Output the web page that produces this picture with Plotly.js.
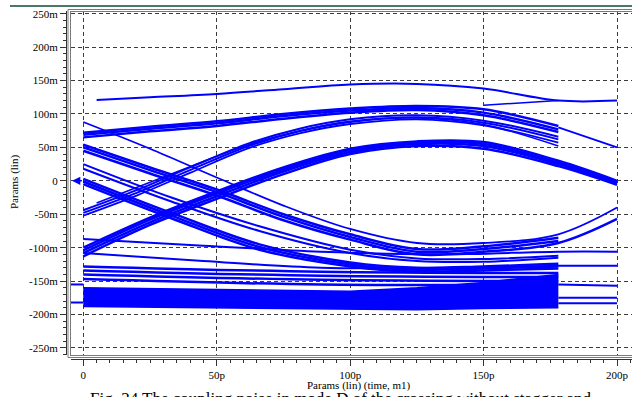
<!DOCTYPE html>
<html><head><meta charset="utf-8">
<script src="https://cdn.plot.ly/plotly-3.0.1.min.js"></script>
<style>html,body{margin:0;padding:0;background:#fff;overflow:hidden}#chart{width:632px;height:397px}</style>
</head><body><div id="chart"></div>
<script>
// ---- tick labels ----
const xTickVals = [0, 50, 100, 150, 200];
const xTickText = ['0', '50p', '100p', '150p', '200p'];
const yTickVals = [-250, -200, -150, -100, -50, 0, 50, 100, 150, 200, 250];
const yTickText = ['-250m', '-200m', '-150m', '-100m', '-50m', '0', '50m', '100m', '150m', '200m', '250m'];

// ---- time samples (ps) ----
const tTop = [5, 25, 50, 75, 100, 125, 150, 178, 200];
const tArc = [0, 25, 50, 75, 100, 125, 150, 178];
const tFull = [0, 25, 50, 75, 100, 125, 150, 178, 200];
const tUp = [0, 20, 40, 62, 81, 100, 125, 150, 178];
const tUp5 = [5, 20, 40, 62, 81, 100, 125, 150, 178];
const tFall = [0, 33, 66, 100, 125, 150, 178];
const tFlat = [0, 45, 89, 133, 178, 200];
const tFlat3 = [0, 89, 178];
const tBlock = [0, 50, 100, 125, 150, 178];
const tTail = [178, 200];
const tLink = [150, 178];
const tPre = [-4.6, 0];

// ---- values (mV) ----
const yTop = [121, 125, 130, 137, 144, 145, 138, 120, 120];
const bundle2a = [65, 74, 82, 93, 102, 106, 98, 73];
const bundle2b = [69, 78, 86, 97, 105, 109, 102, 77];
const bundle2c = [72, 81, 89, 100, 108, 112, 107, 82];
const bundle2Tail = [80, 50];
const bundle2Link = [113, 120];
const upper1 = [-48, -18, 16, 52, 74, 88, 95, 87, 62];
const upper2 = [-44, -14, 20, 56, 78, 92, 98, 90, 66];
const upper3 = [-33, -10, 21, 54, 75, 89, 94, 84, 52];
const upper4 = [-52, -22, 12, 49, 71, 85, 92, 83, 57];
const lower1 = [-100, -55, -16, 20, 48, 59, 58, 30, 0];
const lower2 = [-104, -58, -19, 17, 46, 57, 55, 27, -2];
const lower3 = [-108, -62, -23, 14, 43, 55, 52, 25, -4];
const lower4 = [-113, -66, -27, 10, 40, 52, 48, 22, -6];
const fallA = [88, 48, 5, -37, -72, -93, -93, -80, -40];
const fallB1 = [54, 20, -13, -50, -80, -102, -98, -85];
const fallB2 = [50, 16, -17, -54, -84, -106, -102, -90];
const fallB3 = [45, 11, -22, -59, -88, -110, -106, -93, -57];
const fallC1 = [25, -25, -68, -103, -116, -117, -112];
const fallC2 = [18, -31, -75, -108, -120, -121, -115];
const fallD1 = [3, -48, -95, -122, -130, -128, -124];
const fallD2 = [-1, -52, -99, -125, -133, -131, -128];
const fallD3 = [-5, -56, -103, -128, -136, -134, -131];
const flat1 = [-87, -97, -106, -110, -106, -106];
const flat2 = [-108, -120, -130, -130, -127, -127];
const flat3a = [-128, -136, -138];
const flat3b = [-134, -142, -144];
const flat3c = [-140, -148, -150];
const flat3d = [-147, -155, -155];
const blockTop = [-160, -163, -165, -160, -152, -140];
const blockBot = [-188, -190, -193, -193, -191, -190];
const tail157 = [-155, -157];
const tail175 = [-175, -175];
const tail183 = [-183, -183];
const pre155 = [-155, -155];
const pre182 = [-182, -182];

const BLUE = 'rgb(0,0,255)';
function ln(t, y, w) {
  return {x: t, y: y, type: 'scatter', mode: 'lines', hoverinfo: 'skip', showlegend: false,
          line: {color: BLUE, width: w || 2, shape: 'spline', smoothing: 1}};
}
const traces = [
  ln(tTop, yTop, 2),
  ln(tArc, bundle2a, 2.5), ln(tArc, bundle2b, 2.5), ln(tArc, bundle2c, 2.5),
  ln(tTail, bundle2Tail, 1.8), ln(tLink, bundle2Link, 1.5),
  ln(tUp, upper1, 2), ln(tUp, upper2, 2), ln(tUp5, upper3, 1.6), ln(tUp, upper4, 1.8),
  ln(tFull, lower1, 2.5), ln(tFull, lower2, 2.5), ln(tFull, lower3, 2.5), ln(tFull, lower4, 2.5),
  ln(tFull, fallA, 1.8),
  ln(tArc, fallB1, 2.5), ln(tArc, fallB2, 2.5), ln(tFull, fallB3, 2.5),
  ln(tFall, fallC1, 2), ln(tFall, fallC2, 2),
  ln(tFall, fallD1, 2.5), ln(tFall, fallD2, 2.5), ln(tFall, fallD3, 2.5),
  ln(tFlat, flat1, 2), ln(tFlat, flat2, 2),
  ln(tFlat3, flat3a, 2.5), ln(tFlat3, flat3b, 2.5), ln(tFlat3, flat3c, 2.5), ln(tFlat3, flat3d, 2.5),
  {x: tBlock, y: blockBot, type: 'scatter', mode: 'lines', hoverinfo: 'skip', showlegend: false,
   line: {color: BLUE, width: 1.5}},
  {x: tBlock, y: blockTop, type: 'scatter', mode: 'lines', hoverinfo: 'skip', showlegend: false,
   fill: 'tonexty', fillcolor: BLUE, line: {color: BLUE, width: 1.5}},
  ln(tTail, tail157, 2), ln(tTail, tail175, 2), ln(tTail, tail183, 2),
  ln(tPre, pre155, 2), ln(tPre, pre182, 2),
  {x: [null], y: [null], xaxis: 'x2', yaxis: 'y2', type: 'scatter', mode: 'lines', showlegend: false, hoverinfo: 'skip'}
];

// ---- pixel helpers for paper coords ----
const L = 66, R = 632, T = 11, B = 359;
const px = v => (v - L) / (R - L);
const py = v => (B - v) / (B - T);
const serif = 'Liberation Serif, Times New Roman, serif';
const FRAME = '#7a7a7a';
const GRID = '#3c3c3c';

const layout = {
  width: 632, height: 397,
  margin: {l: L, r: 0, t: T, b: 397 - B, pad: 0},
  paper_bgcolor: '#fff', plot_bgcolor: '#fff',
  showlegend: false,
  xaxis: {domain: [px(71), 1], range: [-4.6, 205.6], tickvals: xTickVals, showticklabels: false, ticks: '',
          showgrid: true, gridcolor: GRID, gridwidth: 1, griddash: '4px,3px', zeroline: false,
          showline: true, linecolor: FRAME, linewidth: 1, fixedrange: true},
  yaxis: {domain: [py(355), 1], range: [-260.5, 254], tickvals: yTickVals, showticklabels: false, ticks: '',
          showgrid: true, gridcolor: GRID, gridwidth: 1, griddash: '4px,3px', zeroline: false,
          showline: true, linecolor: FRAME, linewidth: 1, fixedrange: true},
  xaxis2: {overlaying: 'x', anchor: 'free', position: 0, range: [-4.6, 205.6],
           tickmode: 'array', tickvals: xTickVals, ticktext: xTickText, ticks: 'outside', ticklen: 6,
           tickcolor: '#333', tickwidth: 1, showline: true, linecolor: '#333', linewidth: 1,
           showgrid: false, zeroline: false, tickfont: {family: serif, size: 11, color: '#000'},
           minor: {tickmode: 'linear', tick0: 0, dtick: 5, ticks: 'outside', ticklen: 3, tickcolor: '#333', showgrid: false},
           fixedrange: true},
  yaxis2: {overlaying: 'y', anchor: 'free', position: 0, side: 'left', range: [-260.5, 254],
           tickmode: 'array', tickvals: yTickVals, ticktext: yTickText, ticks: 'outside', ticklen: 6,
           tickcolor: '#333', tickwidth: 1, showline: true, linecolor: '#333', linewidth: 1,
           showgrid: false, zeroline: false, tickfont: {family: serif, size: 11, color: '#000'},
           minor: {tickmode: 'linear', tick0: 0, dtick: 10, ticks: 'outside', ticklen: 3, tickcolor: '#333', showgrid: false},
           fixedrange: true},
  shapes: [
    {type: 'line', xref: 'paper', yref: 'paper', x0: px(10), x1: 1, y0: py(6), y1: py(6),
     line: {color: '#0d4a3a', width: 1.5}},
    {type: 'line', xref: 'paper', yref: 'paper', x0: px(68), x1: px(68), y0: py(9.5), y1: py(357.5),
     line: {color: FRAME, width: 1}},
    {type: 'line', xref: 'paper', yref: 'paper', x0: px(68), x1: 1, y0: py(357.5), y1: py(357.5),
     line: {color: FRAME, width: 1}},
    {type: 'line', xref: 'paper', yref: 'paper', x0: px(68), x1: 1, y0: py(9.5), y1: py(9.5),
     line: {color: FRAME, width: 1}},
    {type: 'line', xref: 'paper', yref: 'paper', x0: px(71), x1: 1, y0: py(11.5), y1: py(11.5),
     line: {color: FRAME, width: 1}}
  ],
  annotations: [
    {text: 'Params (lin) (time, m1)', xref: 'paper', yref: 'paper', x: px(305), y: py(385),
     xanchor: 'left', yanchor: 'middle', showarrow: false, font: {family: serif, size: 11, color: '#000'}},
    {text: 'Params (lin)', xref: 'paper', yref: 'paper', x: px(14), y: py(182), textangle: -90,
     xanchor: 'center', yanchor: 'middle', showarrow: false, font: {family: serif, size: 11, color: '#000'}},
    {text: 'Fig. 24 The coupling noise in mode D of the crossing without stagger and', xref: 'paper', yref: 'paper',
     x: px(88), y: py(398), xanchor: 'left', yanchor: 'middle', showarrow: false,
     font: {family: serif, size: 17, color: '#000'}},
    {x: -4.2, y: 0, xref: 'x', yref: 'y', axref: 'x', ayref: 'y', ax: 0, ay: 0, text: '',
     showarrow: true, arrowhead: 2, arrowsize: 1.1, arrowwidth: 1.5, arrowcolor: BLUE}
  ]
};

Plotly.newPlot('chart', traces, layout, {staticPlot: true, displayModeBar: false});
</script></body></html>
